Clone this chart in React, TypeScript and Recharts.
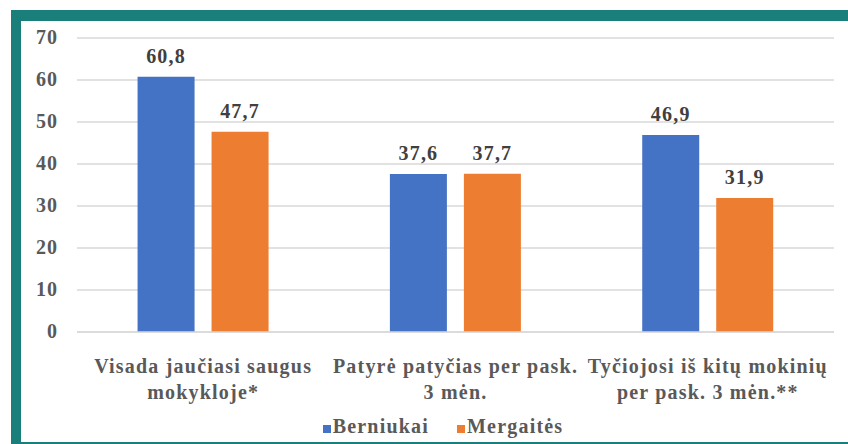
import React from 'react';
import { BarChart, Bar, XAxis, YAxis, CartesianGrid, LabelList } from 'recharts';

// Survey categories (line breaks as in the original slide)
const categories = [
  'Visada jaučiasi saugus\nmokykloje*',
  'Patyrė patyčias per pask.\n3 mėn.',
  'Tyčiojosi iš kitų mokinių\nper pask. 3 mėn.**',
];
const boys = [60.8, 37.6, 46.9];
const girls = [47.7, 37.7, 31.9];
const yTicks = [0, 10, 20, 30, 40, 50, 60, 70];

const seriesNames = { boys: 'Berniukai', girls: 'Mergaitės' };
const BLUE = '#4472C4';
const ORANGE = '#ED7D31';
const FONT = '"Liberation Serif", "Times New Roman", serif';

const data = categories.map((c, i) => ({ name: c, boys: boys[i], girls: girls[i] }));

const fmt = (v: any) => String(v).replace('.', ',');

const YTick = (props: any) => {
  const { y, payload } = props;
  return (
    <text x={58} y={y} dy={6} textAnchor="end" fill="#595959" fontFamily={FONT} fontWeight="bold" fontSize={20} letterSpacing={1}>
      {payload.value}
    </text>
  );
};

const XTick = (props: any) => {
  const { x, y, payload } = props;
  const lines = String(payload.value).split('\n');
  return (
    <g>
      {lines.map((l, i) => (
        <text key={i} x={x} y={y + 33 + i * 26} textAnchor="middle" fill="#595959" fontFamily={FONT} fontWeight="bold" fontSize={20} letterSpacing={1.2}>
          {l}
        </text>
      ))}
    </g>
  );
};

const LegendBox = () => (
  <div style={{ position: 'absolute', left: 0, top: 415, width: 848, display: 'flex', justifyContent: 'center', fontFamily: FONT, fontWeight: 'bold', fontSize: 20, letterSpacing: 1.2, color: '#595959' }}>
    <div style={{ display: 'flex', marginLeft: 38 }}>
      {[{ n: seriesNames.boys, c: BLUE }, { n: seriesNames.girls, c: ORANGE }].map((it, i) => (
        <div key={it.n} style={{ display: 'flex', alignItems: 'baseline', marginLeft: i ? 28 : 0 }}>
          <span style={{ display: 'inline-block', width: 8, height: 8, background: it.c, marginRight: 2 }} />
          <span>{it.n}</span>
        </div>
      ))}
    </div>
  </div>
);

export default function App() {
  return (
    <div style={{ position: 'absolute', left: 0, top: 0, width: 848, height: 444, background: '#fff', overflow: 'hidden' }}>
      <div style={{ position: 'absolute', left: 11, top: 10, width: 860, height: 434, boxSizing: 'border-box', borderTop: '11px solid #1a7e7b', borderLeft: '10px solid #1a7e7b', borderBottom: '2px solid #1a7e7b' }} />
      <div style={{ position: 'absolute', left: 0, top: 0 }}>
        <BarChart width={848} height={444} data={data} margin={{ top: 38, right: 14, bottom: 0, left: 0 }} barCategoryGap="24%" barGap={17}>
          <CartesianGrid vertical={false} stroke="#d9d9d9" strokeWidth={1.5} />
          <XAxis dataKey="name" tick={<XTick />} tickLine={false} axisLine={{ stroke: '#d9d9d9', strokeWidth: 1.5 }} interval={0} height={112} />
          <YAxis domain={[0, 70]} ticks={yTicks} tick={<YTick />} tickLine={false} axisLine={false} width={77} interval={0} />
          <Bar dataKey="boys" name={seriesNames.boys} fill={BLUE} isAnimationActive={false}>
            <LabelList dataKey="boys" position="top" offset={14} formatter={fmt} fill="#404040" fontFamily={FONT} fontWeight="bold" fontSize={20} letterSpacing={1.2} />
          </Bar>
          <Bar dataKey="girls" name={seriesNames.girls} fill={ORANGE} isAnimationActive={false}>
            <LabelList dataKey="girls" position="top" offset={14} formatter={fmt} fill="#404040" fontFamily={FONT} fontWeight="bold" fontSize={20} letterSpacing={1.2} />
          </Bar>
        </BarChart>
      </div>
      <LegendBox />
    </div>
  );
}
